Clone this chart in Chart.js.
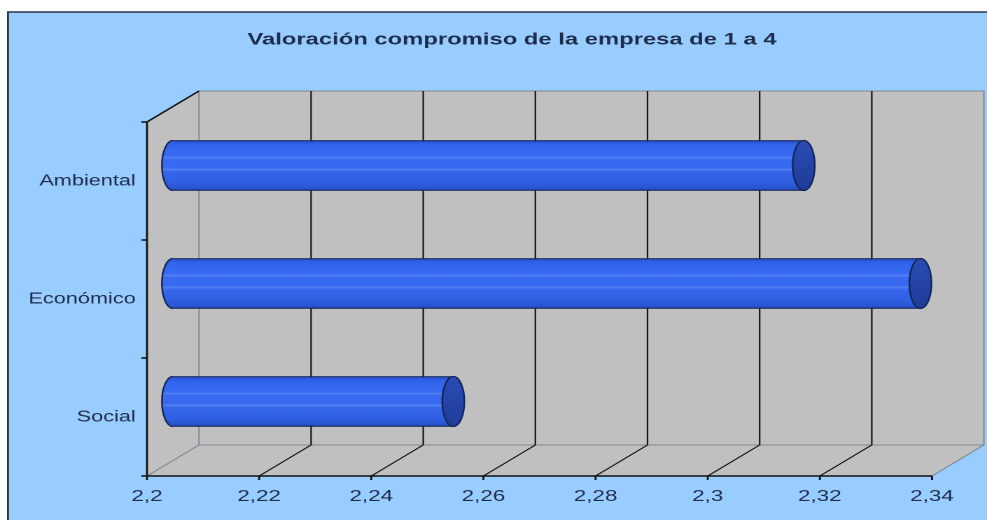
<!DOCTYPE html>
<html><head><meta charset="utf-8">
<script src="https://cdn.jsdelivr.net/npm/chart.js@4.4.0/dist/chart.umd.min.js"></script>
<style>
html,body{margin:0;padding:0;background:#fff;overflow:hidden;}
#wrap{width:705px;height:520px;transform:scaleX(1.4);transform-origin:0 0;}
canvas{display:block;}
</style></head><body>
<div id="wrap"><canvas id="c" width="705" height="520"></canvas></div>
<script>
// ---- data ----
const categories = ['Ambiental', 'Económico', 'Social'];
const values = [2.3125, 2.3333, 2.25];
const xTicks = [2.2, 2.22, 2.24, 2.26, 2.28, 2.3, 2.32, 2.34];
const tickLabels = ['2,2', '2,22', '2,24', '2,26', '2,28', '2,3', '2,32', '2,34'];
const titleText = 'Valoración compromiso de la empresa de 1 a 4';

// ---- style constants ----
const DX = 37.1, DY = -31;       // 3D depth offset (canvas units)
const RX = 7.9;                   // cylinder end radius (horizontal)
const TEXT = '#1F2D4D';
const FONT = '"Liberation Sans", Arial, sans-serif';

function barGradient(ctx, y0, y1) {
  const g = ctx.createLinearGradient(0, y0, 0, y1);
  g.addColorStop(0, '#2A55D6');
  g.addColorStop(0.12, '#3366EE');
  g.addColorStop(0.30, '#386AF2');
  g.addColorStop(0.34, '#5580F4');
  g.addColorStop(0.38, '#386AF2');
  g.addColorStop(0.54, '#3769F0');
  g.addColorStop(0.58, '#5580F2');
  g.addColorStop(0.62, '#3566EC');
  g.addColorStop(0.85, '#2F5EE0');
  g.addColorStop(1, '#2450C6');
  return g;
}

const scene3d = {
  id: 'scene3d',
  beforeDraw(chart) {
    const ctx = chart.ctx, W = chart.width, H = chart.height;
    const xs = chart.scales.x;
    const L = xs.getPixelForValue(xTicks[0]);
    const R = xs.getPixelForValue(xTicks[xTicks.length - 1]);
    const T = chart.chartArea.top, B = chart.chartArea.bottom;
    ctx.save();
    ctx.fillStyle = '#ffffff'; ctx.fillRect(0, 0, W, H);
    ctx.fillStyle = '#99CCFF'; ctx.fillRect(5.7, 12, W, H);
    ctx.strokeStyle = '#2a3448'; ctx.lineWidth = 1.4;
    ctx.beginPath(); ctx.moveTo(5.7, H); ctx.lineTo(5.7, 12); ctx.lineTo(W, 12); ctx.stroke();

    // title
    ctx.fillStyle = TEXT; ctx.font = 'bold 17px ' + FONT;
    ctx.textAlign = 'center'; ctx.textBaseline = 'middle';
    ctx.fillText(titleText, 365.7, 40);

    // walls
    ctx.fillStyle = '#C0C0C0';
    ctx.beginPath(); ctx.moveTo(L, B); ctx.lineTo(L, T); ctx.lineTo(L + DX, T + DY); ctx.lineTo(L + DX, B + DY); ctx.closePath(); ctx.fill();
    ctx.fillRect(L + DX, T + DY, R - L, B - T);
    ctx.beginPath(); ctx.moveTo(L, B); ctx.lineTo(R, B); ctx.lineTo(R + DX, B + DY); ctx.lineTo(L + DX, B + DY); ctx.closePath(); ctx.fill();

    // gray edges
    ctx.strokeStyle = '#7f8a96'; ctx.lineWidth = 1;
    ctx.beginPath();
    ctx.moveTo(L + DX, B + DY); ctx.lineTo(L + DX, T + DY); ctx.lineTo(R + DX, T + DY); ctx.lineTo(R + DX, B + DY); ctx.lineTo(L + DX, B + DY);
    ctx.moveTo(L, B); ctx.lineTo(L + DX, B + DY);
    ctx.moveTo(R, B); ctx.lineTo(R + DX, B + DY);
    ctx.stroke();

    // gridlines (back wall + floor)
    ctx.strokeStyle = '#141414'; ctx.lineWidth = 1.1;
    ctx.beginPath();
    for (let i = 1; i < xTicks.length - 1; i++) {
      const x = xs.getPixelForValue(xTicks[i]);
      ctx.moveTo(x + DX, T + DY); ctx.lineTo(x + DX, B + DY);
      ctx.moveTo(x, B); ctx.lineTo(x + DX, B + DY);
    }
    ctx.stroke();

    // axes
    ctx.strokeStyle = '#101010'; ctx.lineWidth = 1.4;
    ctx.beginPath();
    ctx.moveTo(L + DX, T + DY); ctx.lineTo(L, T); ctx.lineTo(L, B); ctx.lineTo(R, B);
    for (let i = 0; i < xTicks.length; i++) {
      const x = xs.getPixelForValue(xTicks[i]);
      ctx.moveTo(x, B); ctx.lineTo(x, B + 4);
    }
    const n = categories.length;
    const step = (B - T) / n;
    for (let i = 0; i <= n; i++) {
      const y = T + i * step;
      ctx.moveTo(L - 4, y); ctx.lineTo(L, y);
    }
    ctx.stroke();
    ctx.restore();
  },
  beforeDatasetsDraw(chart) {
    chart.ctx.save();
    chart.ctx.translate(DX / 2, DY / 2);
  },
  afterDatasetsDraw(chart) {
    const ctx = chart.ctx;
    const meta = chart.getDatasetMeta(0);
    meta.data.forEach((bar) => {
      const p = bar.getProps(['x', 'y', 'base', 'height'], true);
      const h = p.height / 2;
      // left rounded end
      ctx.beginPath();
      ctx.ellipse(p.base, p.y, RX, h, 0, Math.PI / 2, Math.PI * 1.5);
      ctx.closePath();
      ctx.fillStyle = barGradient(ctx, p.y - h, p.y + h);
      ctx.fill();
      ctx.beginPath();
      ctx.ellipse(p.base, p.y, RX, h, 0, Math.PI / 2, Math.PI * 1.5);
      ctx.strokeStyle = '#14245a'; ctx.lineWidth = 1.2; ctx.stroke();
      // right cap
      ctx.beginPath();
      ctx.ellipse(p.x, p.y, RX, h, 0, 0, Math.PI * 2);
      const g = ctx.createLinearGradient(0, p.y - h, 0, p.y + h);
      g.addColorStop(0, '#2a4cb4'); g.addColorStop(1, '#1f3c98');
      ctx.fillStyle = g; ctx.fill();
      ctx.strokeStyle = '#14245a'; ctx.lineWidth = 1.2; ctx.stroke();
    });
    ctx.restore();
  }
};

new Chart(document.getElementById('c'), {
  type: 'bar',
  data: {
    labels: categories,
    datasets: [{
      data: values,
      base: xTicks[0],
      barThickness: 50,
      clip: false,
      backgroundColor: (c) => {
        const ch = c.chart; const ys = ch.scales && ch.scales.y;
        if (!ys || c.dataIndex == null || !ch.chartArea) return '#3366EE';
        const yc = ys.getPixelForValue(c.dataIndex);
        return barGradient(ch.ctx, yc - 25, yc + 25);
      },
      borderColor: '#14245a',
      borderWidth: { top: 1.2, bottom: 1.2, left: 0, right: 0 },
      borderSkipped: false
    }]
  },
  options: {
    indexAxis: 'y',
    responsive: false,
    devicePixelRatio: 2,
    animation: false,
    events: [],
    layout: { padding: { top: 122, right: 39.3, left: 0, bottom: 0 } },
    plugins: { legend: { display: false }, title: { display: false }, tooltip: { enabled: false } },
    scales: {
      x: {
        type: 'linear', min: 2.2, max: 2.34,
        grid: { display: false, drawTicks: false },
        border: { display: false },
        afterBuildTicks: (s) => { s.ticks = xTicks.map(v => ({ value: v })); },
        afterFit: (s) => { s.height = 44; },
        ticks: {
          autoSkip: false, maxRotation: 0, padding: 11,
          color: TEXT, font: { family: FONT, size: 16 },
          callback: (v, i) => tickLabels[i]
        }
      },
      y: {
        type: 'category',
        grid: { display: false, drawTicks: false },
        border: { display: false },
        afterFit: (s) => { s.width = 105; },
        ticks: { padding: 8, color: TEXT, font: { family: FONT, size: 15.5 } }
      }
    }
  },
  plugins: [scene3d]
});
</script>
</body></html>
